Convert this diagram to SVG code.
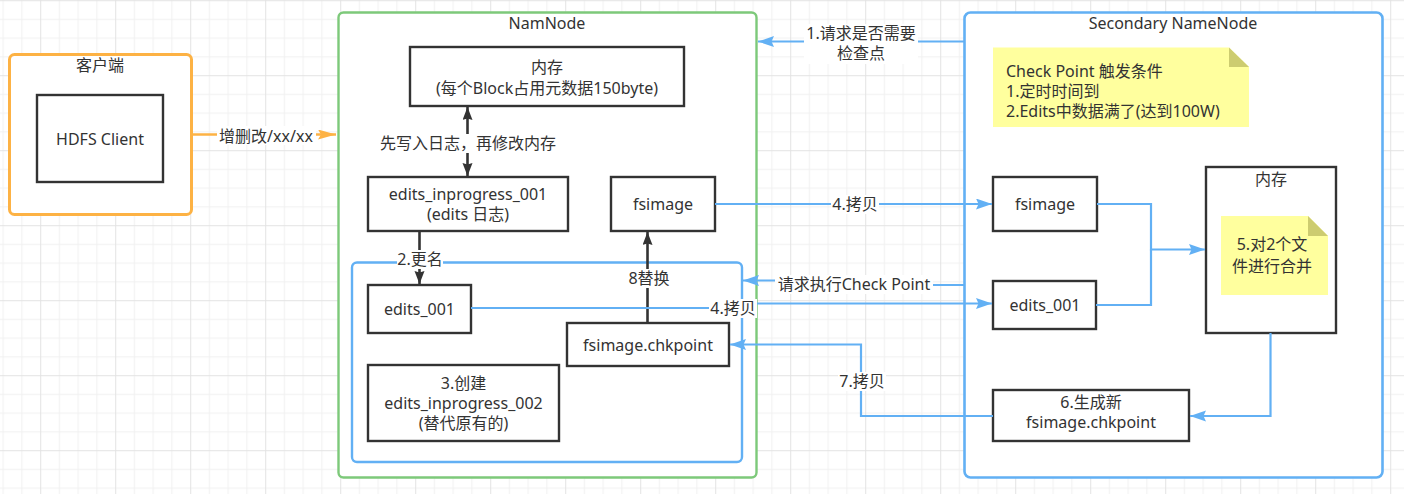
<svg xmlns="http://www.w3.org/2000/svg" width="1404" height="494" viewBox="0 0 1404 494">
<style>
text{font-family:"Noto Sans","Noto Sans CJK SC",sans-serif;font-size:16px;fill:#333;dominant-baseline:central;text-anchor:middle}
.box{fill:#fff;stroke:#333;stroke-width:2.4}
.blue{fill:none;stroke:#62B0F4;stroke-width:2.2}
.blk{fill:none;stroke:#333;stroke-width:2.6}
.lbl{fill:#fff;stroke:none}
.note{fill:#FFFF9E}
.fold{fill:#CDCC70}
</style>
<defs>
<pattern id="grid" patternUnits="userSpaceOnUse" x="40.2" y="0.2" width="75" height="75">
<rect width="75" height="75" fill="#fff"/>
<g fill="#f1f1f1">
<rect x="18.75" y="0" width="1" height="75"/><rect x="37.5" y="0" width="1" height="75"/><rect x="56.25" y="0" width="1" height="75"/>
<rect x="0" y="18.75" width="75" height="1"/><rect x="0" y="37.5" width="75" height="1"/><rect x="0" y="56.25" width="75" height="1"/>
</g>
<g fill="#e3e3e3"><rect x="0" y="0" width="1" height="75"/><rect x="0" y="0" width="75" height="1"/></g>
</pattern>
<marker id="ab" markerUnits="userSpaceOnUse" markerWidth="17" markerHeight="12" refX="16" refY="5.5" orient="auto"><path d="M0,0 L16,5.5 L0,11 L2.5,5.5 Z" fill="#62B0F4"/></marker>
<marker id="ak" markerUnits="userSpaceOnUse" markerWidth="14" markerHeight="11" refX="13" refY="5" orient="auto-start-reverse"><path d="M0,0 L13,5 L0,10 L1.5,5 Z" fill="#333"/></marker>
<marker id="ao" markerUnits="userSpaceOnUse" markerWidth="19" markerHeight="11" refX="18" refY="5" orient="auto"><path d="M0,0 L18,5 L0,10 L3,5 Z" fill="#FDB244"/></marker>
</defs>
<rect width="1404" height="494" fill="url(#grid)"/>

<g id="client">
<rect x="9.5" y="54.5" width="182" height="160" rx="5" fill="#fff" stroke="#FDB244" stroke-width="3"/>
<text x="100" y="65">客户端</text>
</g>
<g id="hdfs-client">
<rect class="box" x="37" y="95" width="126" height="87"/>
<text x="100" y="139">HDFS Client</text>
</g>

<g id="namenode">
<rect x="338.5" y="12.5" width="418" height="465" rx="5" fill="#fff" stroke="#7DC97A" stroke-width="2.4"/>
<text x="547" y="23">NamNode</text>
</g>
<g id="nn-inner">
<rect x="352" y="262.5" width="390" height="199.5" rx="5" fill="none" stroke="#62B0F4" stroke-width="2.4"/>
</g>
<g id="nn-memory">
<rect class="box" x="410" y="47" width="274" height="59"/>
<text x="547" y="67">内存</text>
<text x="547" y="88">(每个Block占用元数据150byte)</text>
</g>
<g id="edits-inprogress-001">
<rect class="box" x="368" y="177" width="200" height="54"/>
<text x="468" y="194">edits_inprogress_001</text>
<text x="468" y="214">(edits 日志)</text>
</g>
<g id="nn-fsimage">
<rect class="box" x="611" y="177" width="104" height="54"/>
<text x="663" y="204">fsimage</text>
</g>
<g id="nn-edits-001">
<rect class="box" x="368" y="285" width="103" height="48"/>
<text x="419.5" y="309">edits_001</text>
</g>
<g id="nn-fsimage-chkpoint">
<rect class="box" x="567" y="323" width="162" height="43"/>
<text x="648" y="345">fsimage.chkpoint</text>
</g>
<g id="edits-inprogress-002">
<rect class="box" x="368" y="365" width="191" height="76"/>
<text x="463.5" y="383">3.创建</text>
<text x="463.5" y="403">edits_inprogress_002</text>
<text x="463.5" y="423">(替代原有的)</text>
</g>

<g id="snn">
<rect x="964.5" y="12.5" width="418" height="465" rx="6" fill="#fff" stroke="#62B0F4" stroke-width="2.6"/>
<text x="1173" y="23">Secondary NameNode</text>
</g>
<g id="checkpoint-note">
<path class="note" d="M993,47.5 H1229 L1249,67 V127 H993 Z"/>
<path class="fold" d="M1229,47.5 L1249,67 H1229 Z"/>
<text x="1006" y="71" style="text-anchor:start">Check Point 触发条件</text>
<text x="1006" y="91" style="text-anchor:start">1.定时时间到</text>
<text x="1006" y="111" style="text-anchor:start">2.Edits中数据满了(达到100W)</text>
</g>
<g id="snn-fsimage">
<rect class="box" x="993" y="177" width="104" height="54"/>
<text x="1045" y="204">fsimage</text>
</g>
<g id="snn-memory">
<rect class="box" x="1206" y="167" width="130" height="166"/>
<text x="1271" y="179">内存</text>
</g>
<g id="merge-note">
<path class="note" d="M1221,216 H1308 L1328,236 V295 H1221 Z"/>
<path class="fold" d="M1308,216 L1328,236 H1308 Z"/>
<text x="1272" y="244">5.对2个文</text>
<text x="1272" y="266">件进行合并</text>
</g>
<g id="snn-edits-001">
<rect class="box" x="993" y="281" width="103" height="48"/>
<text x="1045" y="305">edits_001</text>
</g>
<g id="new-chkpoint">
<rect class="box" x="993" y="390" width="196" height="51"/>
<text x="1091" y="402">6.生成新</text>
<text x="1091" y="422">fsimage.chkpoint</text>
</g>

<g id="connectors">
<path d="M192,134.5 H336" fill="none" stroke="#FDB244" stroke-width="2.6" marker-end="url(#ao)"/>
<rect class="lbl" x="217" y="126" width="99" height="19"/>
<text x="266" y="136">增删改/xx/xx</text>

<path class="blk" d="M467.5,107 V176" marker-start="url(#ak)" marker-end="url(#ak)"/>
<rect class="lbl" x="378" y="134" width="181" height="19"/>
<text x="468" y="143">先写入日志，再修改内存</text>

<path class="blk" d="M419.5,231 V284" marker-end="url(#ak)"/>
<rect class="lbl" x="397" y="250" width="46" height="19"/>
<text x="420" y="259">2.更名</text>

<path class="blk" d="M647.5,323 V232" marker-end="url(#ak)"/>
<rect class="lbl" x="627" y="269" width="44" height="19"/>
<text x="649" y="278">8替换</text>

<path class="blue" d="M964,41.5 H758" marker-end="url(#ab)"/>
<rect class="lbl" x="804" y="24" width="114" height="40"/>
<text x="861" y="33">1.请求是否需要</text>
<text x="861" y="53">检查点</text>

<path class="blue" d="M715,204 H992" marker-end="url(#ab)"/>
<rect class="lbl" x="831" y="195" width="48" height="19"/>
<text x="855" y="204">4.拷贝</text>

<path class="blue" d="M964,285 H850 V280.5 H743" marker-end="url(#ab)"/>
<rect class="lbl" x="775" y="275" width="158" height="19"/>
<text x="854" y="284">请求执行Check Point</text>

<path class="blue" d="M471,308 H750 V303.5 H992" marker-end="url(#ab)"/>
<rect class="lbl" x="709" y="299" width="48" height="19"/>
<text x="733" y="308">4.拷贝</text>

<path class="blue" d="M1097,204 H1151 V249.5 H1205" marker-end="url(#ab)"/>
<path class="blue" d="M1096,305 H1151 V249.5"/>

<path class="blue" d="M1270.5,333 V416 H1190" marker-end="url(#ab)"/>

<path class="blue" d="M993,416 H861 V344.5 H730" marker-end="url(#ab)"/>
<rect class="lbl" x="838" y="372" width="48" height="19"/>
<text x="862" y="381">7.拷贝</text>
</g>
</svg>
